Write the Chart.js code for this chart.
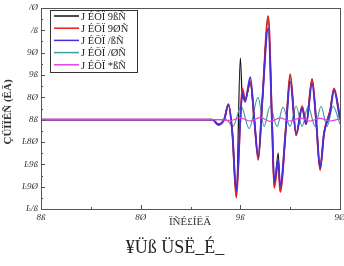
<!DOCTYPE html>
<html>
<head>
<meta charset="utf-8">
<script src="https://cdn.jsdelivr.net/npm/chart.js@4.4.1/dist/chart.umd.min.js"></script>
<style>
  html, body { margin: 0; padding: 0; background: #fff; }
  #wrap { position: relative; width: 344px; height: 266px; }
</style>
</head>
<body>
<div id="wrap"><canvas id="c" width="344" height="266"></canvas></div>
<script>
// series data
const mainX  = [0, 0.82, 0.86, 0.89, 0.92, 0.94, 0.96, 0.98, 1.00, 1.01, 1.024, 1.05, 1.07, 1.09, 1.11, 1.14, 1.16, 1.17, 1.19, 1.20, 1.23, 1.25, 1.28, 1.31, 1.33, 1.36, 1.38, 1.40, 1.42, 1.45, 1.47, 1.50];
const black  = [0, 0, 0, -0.1, 0.02, 0.35, -0.3, -1.7, 1.38, 0.5, 0.45, 0.8, 0.0, -0.88, 0.4, 2.3, -0.2, -1.5, -0.75, -1.6, -0.1, 1.0, -0.35, 0.3, -0.1, 0.9, 0.0, -1.1, -0.3, 0.2, 0.68, 0.05];
const red    = [0, 0, 0, -0.1, 0.02, 0.35, -0.3, -1.75, 0.0, 0.7, 0.45, 0.85, 0.0, -0.9, 0.4, 2.32, -0.2, -1.53, -0.95, -1.62, -0.1, 1.02, -0.35, 0.3, -0.1, 0.91, 0.0, -1.13, -0.3, 0.2, 0.7, 0.05];
const blue   = [0, 0, 0, -0.12, 0.02, 0.33, -0.3, -1.6, 0.0, 0.6, 0.4, 0.95, 0.0, -0.82, 0.4, 2.05, -0.2, -1.4, -0.9, -1.5, -0.1, 0.85, -0.3, 0.25, -0.1, 0.8, 0.0, -1.08, -0.3, 0.15, 0.65, 0.0];
const tealX  = [0, 0.928, 0.963, 1.004, 1.044, 1.089, 1.119, 1.149, 1.184, 1.214, 1.249, 1.280, 1.310, 1.340, 1.375, 1.405, 1.435, 1.465, 1.5];
const teal   = [0, 0, -0.15, 0.3, -0.2, 0.5, -0.15, 0.3, -0.15, 0.28, -0.15, 0.3, -0.15, 0.3, -0.15, 0.3, -0.15, 0.3, -0.1];
const pinkX  = [0, 0.9, 0.95, 1.0, 1.05, 1.1, 1.15, 1.2, 1.25, 1.3, 1.35, 1.4, 1.45, 1.5];
const pink   = [0, 0, -0.02, 0.04, -0.03, 0.05, -0.04, 0.04, -0.03, 0.04, -0.03, 0.03, -0.03, 0.02];

const legendLabels = ['J ÉÖÏ 9ßÑ', 'J ÉÖÏ 9ØÑ', 'J ÉÖÏ /ßÑ', 'J ÉÖÏ /ØÑ', 'J ÉÖÏ *ßÑ'];
const xTickValues = [0, 0.5, 1.0, 1.5];
const xTickLabels = ['8ß', '8Ø', '9ß', '9Ø'];
const yTickValues = [-2, -1.5, -1, -0.5, 0, 0.5, 1, 1.5, 2, 2.5];
const yTickLabels = ['Ŀ/ß', 'Ŀ9Ø', 'Ŀ9ß', 'Ŀ8Ø', '8ß', '8Ø', '9ß', '9Ø', '/ß', '/Ø'];
const xTitle = 'ÏÑÉ£ÍËÄ';
const yTitle = 'ÇÜÏÏÊÑ (ËÄ)';
const caption = '¥Üß ÜSË_É_';

const pts = (xs, ys) => xs.map((v, i) => ({ x: v, y: ys[i] }));

// draws box, inward ticks, labels, titles and legend
const decor = {
  id: 'decor',
  afterDatasetsDraw(chart) {
    const { ctx, chartArea: a, scales: { x, y } } = chart;
    ctx.save();
    ctx.strokeStyle = '#555';
    ctx.lineWidth = 1;
    ctx.strokeRect(a.left + 0.5, a.top + 0.5, a.right - a.left, a.bottom - a.top);

    ctx.beginPath();
    for (let v = -2; v <= 2.5001; v += 0.25) {
      const py = Math.round(y.getPixelForValue(v)) + 0.5;
      const len = Math.abs(v * 2 - Math.round(v * 2)) < 1e-6 ? 4 : 2;
      ctx.moveTo(a.left, py); ctx.lineTo(a.left + len, py);
    }
    for (let v = 0; v <= 1.5001; v += 0.25) {
      const px = Math.round(x.getPixelForValue(v)) + 0.5;
      const len = Math.abs(v * 2 - Math.round(v * 2)) < 1e-6 ? 4 : 2;
      ctx.moveTo(px, a.bottom); ctx.lineTo(px, a.bottom - len);
    }
    ctx.stroke();

    ctx.fillStyle = '#333';
    ctx.font = 'italic 9px "Liberation Serif"';
    ctx.textAlign = 'right';
    ctx.textBaseline = 'middle';
    yTickValues.forEach((v, i) => ctx.fillText(yTickLabels[i], a.left - 3, y.getPixelForValue(v)));
    ctx.textAlign = 'center';
    ctx.textBaseline = 'top';
    xTickValues.forEach((v, i) => ctx.fillText(xTickLabels[i], x.getPixelForValue(v), a.bottom + 4));

    ctx.font = '11px "Liberation Serif"';
    ctx.fillText(xTitle, 190, 217);
    ctx.save();
    ctx.translate(8, 112);
    ctx.rotate(-Math.PI / 2);
    ctx.textBaseline = 'middle';
    ctx.font = 'bold 11px "Liberation Serif"';
    ctx.fillText(yTitle, 0, 0);
    ctx.restore();

    ctx.font = '18px "Liberation Serif"';
    ctx.fillStyle = '#222';
    ctx.fillText(caption, 175, 239);

    // legend
    const lx = 50, ly = 10, lw = 87, lh = 62;
    ctx.fillStyle = '#fff';
    ctx.fillRect(lx, ly, lw, lh);
    ctx.strokeStyle = '#333';
    ctx.strokeRect(lx + 0.5, ly + 0.5, lw, lh);
    ctx.font = '10.5px "Liberation Serif"';
    ctx.textAlign = 'left';
    ctx.textBaseline = 'middle';
    chart.data.datasets.forEach((ds, i) => {
      const ry = ly + 6 + i * 12.2;
      ctx.strokeStyle = ds.borderColor;
      ctx.lineWidth = 1.5;
      ctx.beginPath(); ctx.moveTo(lx + 4, ry); ctx.lineTo(lx + 29, ry); ctx.stroke();
      ctx.fillStyle = '#222';
      ctx.fillText(ds.label, lx + 31, ry + 1);
    });
    ctx.restore();
  }
};

new Chart(document.getElementById('c'), {
  type: 'line',
  data: {
    datasets: [
      { label: legendLabels[0], data: pts(mainX, black), borderColor: '#111', borderWidth: 1.2, order: 4 },
      { label: legendLabels[1], data: pts(mainX, red), borderColor: '#e3201b', borderWidth: 1.8, order: 2 },
      { label: legendLabels[2], data: pts(mainX, blue), borderColor: '#4a2ed8', borderWidth: 1.8, order: 1 },
      { label: legendLabels[3], data: pts(tealX, teal), borderColor: '#3e9f9c', borderWidth: 1.2, order: 3 },
      { label: legendLabels[4], data: pts(pinkX, pink), borderColor: '#e040e8', borderWidth: 1.2, order: 0 }
    ]
  },
  options: {
    responsive: false,
    animation: false,
    devicePixelRatio: 1,
    layout: { padding: { left: 41, right: 4, top: 8, bottom: 57 } },
    elements: { point: { radius: 0 }, line: { cubicInterpolationMode: 'monotone', fill: false } },
    plugins: { legend: { display: false }, tooltip: { enabled: false } },
    scales: {
      x: { type: 'linear', min: 0, max: 1.5, display: false },
      y: { type: 'linear', min: -2, max: 2.5, display: false }
    }
  },
  plugins: [decor]
});
</script>
</body>
</html>
